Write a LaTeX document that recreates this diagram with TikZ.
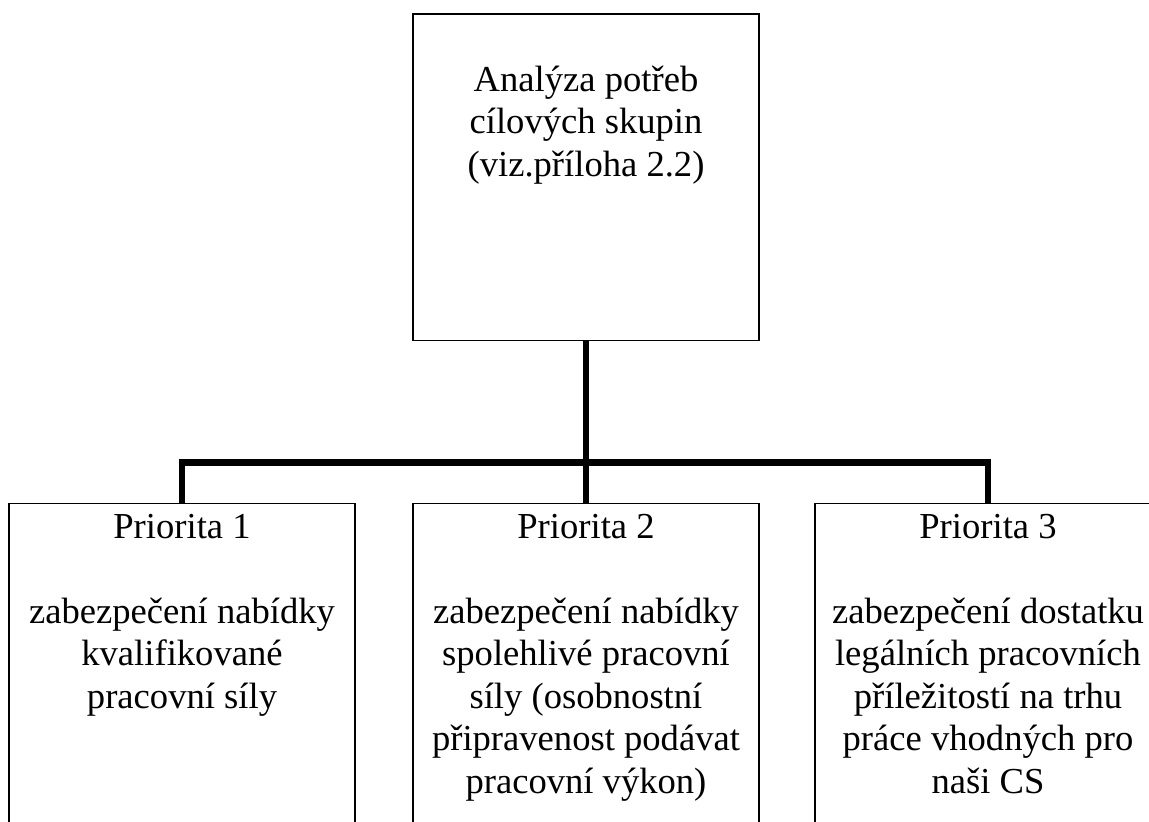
\documentclass[tikz,border=0pt]{standalone}
\usepackage{fontspec}
\setmainfont{Liberation Serif}
\newcommand{\mlines}[1]{\begin{tabular}[t]{@{}c@{}}#1\end{tabular}}
\begin{document}
\begin{tikzpicture}[x=1pt,y=-1pt,
  box/.style={draw=black, line width=1.6pt, minimum width=346pt, inner sep=0pt},
  boxtext/.style={anchor=base, inner sep=0pt, font=\fontsize{36.6}{42.5}\selectfont},
  link/.style={line width=6.6pt, line join=miter, line cap=rect}]
\useasboundingbox (0,0) rectangle (1149,822);
\clip (0,0) rectangle (1149,822);
\fill[white] (0,0) rectangle (1149,822);

% top box
\node[box, anchor=north, minimum height=326.5pt] (top) at (586,13) {};
\node[boxtext] (toptext) at (586,91)
  {\mlines{Analýza potřeb\\ cílových skupin\\ (viz.příloha 2.2)}};

% priority boxes
\node[box, anchor=north, minimum height=340pt] (p1) at (182,502.5) {};
\node[box, anchor=north, minimum height=340pt] (p2) at (586,502.5) {};
\node[box, anchor=north, minimum height=340pt] (p3) at (988,502.5) {};

\node[boxtext] (t1) at (182,538)
  {\mlines{Priorita 1\\ \\ zabezpečení nabídky\\ kvalifikované\\ pracovní síly}};
\node[boxtext] (t2) at (586,538)
  {\mlines{Priorita 2\\ \\ zabezpečení nabídky\\ spolehlivé pracovní\\ síly (osobnostní\\ připravenost podávat\\ pracovní výkon)}};
\node[boxtext] (t3) at (988,538)
  {\mlines{Priorita 3\\ \\ zabezpečení dostatku\\ legálních pracovních\\ příležitostí na trhu\\ práce vhodných pro\\ naši CS}};

% connectors
\coordinate (bar) at (586,462.5);
\draw[link, line cap=butt] (top.south) -- (p2.north);
\draw[link, line cap=butt] (p1.north) |- (bar) -| (p3.north);
\end{tikzpicture}
\end{document}
